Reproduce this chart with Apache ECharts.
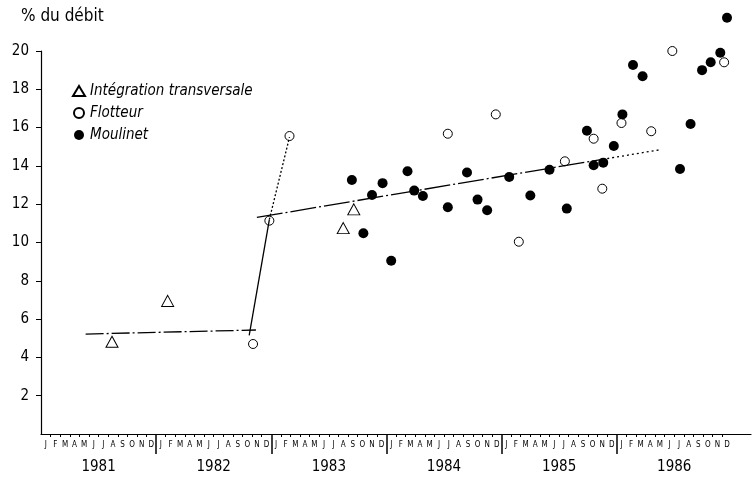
<!DOCTYPE html>
<html>
<head>
<meta charset="utf-8">
<script src="https://cdn.jsdelivr.net/npm/echarts@6/dist/echarts.min.js"></script>
<style>
  html, body { margin: 0; padding: 0; background: #fff; }
  #chart { width: 753px; height: 481px; }
</style>
</head>
<body>
<div id="chart"></div>
<script>
// x = mois depuis janvier 1981 (0 = début janvier 1981)
const years = ["1981", "1982", "1983", "1984", "1985", "1986"];
const monthLetters = ["J", "F", "M", "A", "M", "J", "J", "A", "S", "O", "N", "D"];
const yTicks = [2, 4, 6, 8, 10, 12, 14, 16, 18, 20];

const integrationPts = [[7.4, 4.82], [13.2, 6.95], [31.5, 10.75], [32.6, 11.73]];
const flotteurPts = [
  [22.1, 4.70], [23.8, 11.14], [25.9, 15.56], [42.4, 15.68], [47.4, 16.69],
  [49.8, 10.04], [54.6, 14.24], [57.6, 15.42], [58.5, 12.81], [60.5, 16.24],
  [63.6, 15.81], [65.8, 20.0], [71.2, 19.41]
];
const moulinetPts = [
  [32.4, 13.26], [33.6, 10.48], [34.5, 12.48], [35.6, 13.1], [36.5, 9.05],
  [38.2, 13.72], [38.9, 12.71], [39.8, 12.43], [42.4, 11.84], [44.4, 13.66],
  [45.5, 12.24], [46.5, 11.68], [48.8, 13.42], [51.0, 12.45], [53.0, 13.8],
  [54.8, 11.77], [56.9, 15.84], [57.6, 14.03], [58.6, 14.17], [59.7, 15.04],
  [60.6, 16.69], [61.7, 19.27], [62.7, 18.68], [66.6, 13.84], [67.7, 16.19],
  [68.9, 19.0], [69.8, 19.41], [70.8, 19.91], [71.5, 21.74]
];

// droites d'ajustement
const level1981 = [[4.65, 5.22], [22.4, 5.43]];
const jump1982 = [[21.7, 5.15], [23.8, 11.2]];
const jumpDotted = [[23.8, 11.2], [25.9, 15.5]];
const trend = [[22.5, 11.31], [58.5, 14.34]];
const trendDotted = [[58.5, 14.34], [64.6, 14.85]];

const FONT = '"Liberation Sans Narrow", "DejaVu Sans Condensed", "Liberation Sans", sans-serif';

const monthCenters = [];
for (let i = 0; i < years.length * 12; i++) monthCenters.push(i + 0.5);
const monthBounds = [];
for (let i = 1; i <= years.length * 12; i++) if (i % 12 !== 0) monthBounds.push(i);
const yearCenters = years.map((y, i) => i * 12 + 6);
const yearBounds = years.slice(1).map((y, i) => (i + 1) * 12);

const chart = echarts.init(document.getElementById("chart"), null, { renderer: "canvas" });

const lineSeries = (data, type) => ({
  type: "line",
  data: data,
  symbol: "none",
  silent: true,
  z: 3,
  lineStyle: { color: "#000", width: 1.3, type: type }
});

const options = {
  backgroundColor: "#fff",
  animation: false,
  textStyle: { fontFamily: FONT, color: "#000" },
  title: {
    text: "% du débit",
    left: 16,
    top: 3,
    textStyle: { fontFamily: FONT, fontSize: 17, fontWeight: "normal", color: "#000" }
  },
  legend: {
    orient: "vertical",
    left: 67,
    top: 78,
    itemWidth: 12,
    itemHeight: 10,
    itemGap: 6,
    data: ["Intégration transversale", "Flotteur", "Moulinet"],
    textStyle: { fontFamily: FONT, fontSize: 15, fontStyle: "italic", color: "#000", lineHeight: 16 }
  },
  grid: { left: 41, right: 2, top: 51, bottom: 47 },
  xAxis: [
    {
      type: "value",
      min: 0,
      max: 74,
      position: "bottom",
      splitLine: { show: false },
      axisLine: { show: true, lineStyle: { color: "#000", width: 1.2 } },
      axisTick: { show: true, inside: false, length: 3, customValues: monthBounds, lineStyle: { color: "#000" } },
      axisLabel: {
        customValues: monthCenters,
        margin: 7,
        fontSize: 8,
        fontFamily: FONT,
        color: "#000",
        formatter: (v) => monthLetters[Math.floor(v) % 12]
      }
    },
    {
      type: "value",
      min: 0,
      max: 74,
      position: "bottom",
      splitLine: { show: false },
      axisLine: { show: false },
      axisTick: { show: true, inside: false, length: 20, customValues: yearBounds, lineStyle: { color: "#000", width: 1.5 } },
      axisLabel: {
        customValues: yearCenters,
        margin: 26,
        fontSize: 15,
        fontFamily: FONT,
        color: "#000",
        formatter: (v) => years[Math.floor(v / 12)]
      }
    }
  ],
  yAxis: {
    type: "value",
    min: 0,
    max: 20,
    splitLine: { show: false },
    axisLine: { show: true, lineStyle: { color: "#000", width: 1.2 } },
    axisTick: { show: true, inside: false, length: 5, customValues: yTicks, lineStyle: { color: "#000" } },
    axisLabel: {
      customValues: yTicks,
      margin: 12,
      fontSize: 15,
      fontFamily: FONT,
      color: "#000"
    }
  },
  series: [
    lineSeries(level1981, [18, 3, 2, 3]),
    lineSeries(jump1982, "solid"),
    lineSeries(jumpDotted, [2, 2]),
    lineSeries(trend, [26, 3, 2, 3]),
    lineSeries(trendDotted, [2, 3]),
    {
      name: "Intégration transversale",
      type: "scatter",
      data: integrationPts,
      symbol: "triangle",
      symbolSize: [12, 11],
      clip: false,
      z: 4,
      itemStyle: { color: "rgba(0,0,0,0)", borderColor: "#000", borderWidth: 1, opacity: 1 }
    },
    {
      name: "Flotteur",
      type: "scatter",
      data: flotteurPts,
      symbol: "circle",
      symbolSize: 9,
      clip: false,
      z: 4,
      itemStyle: { color: "rgba(0,0,0,0)", borderColor: "#000", borderWidth: 1, opacity: 1 }
    },
    {
      name: "Moulinet",
      type: "scatter",
      data: moulinetPts,
      symbol: "circle",
      symbolSize: 10,
      clip: false,
      z: 4,
      itemStyle: { color: "#000", opacity: 1 }
    }
  ]
};

chart.setOption(options);
</script>
</body>
</html>
